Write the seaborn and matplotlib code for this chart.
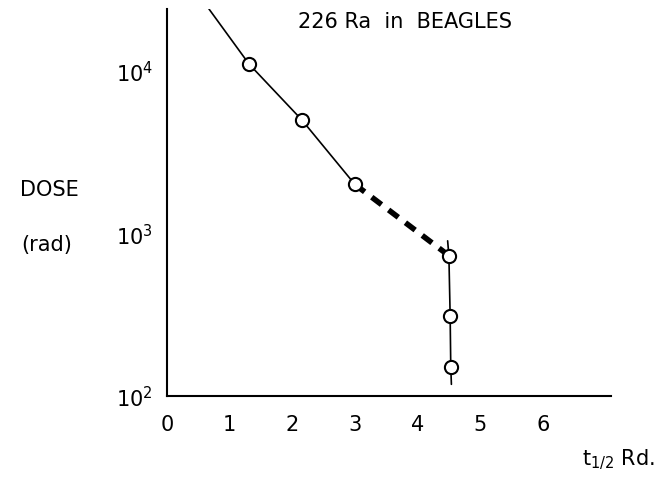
import numpy as np
import matplotlib
matplotlib.use("Agg")
import matplotlib.pyplot as plt
import seaborn as sns

# values (x in t1/2 units, y = dose in rad)
solid_x = [0.67, 1.31, 2.15, 3.0]
solid_y = [24000, 11000, 5000, 2000]
dash_x = [3.0, 4.5]
dash_y = [2000, 730]
drop_x = [4.48, 4.5, 4.52, 4.53, 4.54]
drop_y = [900, 730, 310, 150, 118]
point_x = [1.31, 2.15, 3.0, 4.5, 4.52, 4.53]
point_y = [11000, 5000, 2000, 730, 310, 150]
x_ticks = [0, 1, 2, 3, 4, 5, 6]
y_ticks = [100, 1000, 10000]

sns.set_theme(style="white")
plt.rcParams['font.family'] = ['DejaVu Sans']
plt.rcParams['text.color'] = 'black'

fig = plt.figure(figsize=(6.61, 4.85), dpi=100)
ax = fig.add_axes([0.2526, 0.1814, 0.672, 0.798])

sns.lineplot(x=solid_x, y=solid_y, ax=ax, color='black', linewidth=1.2)
sns.lineplot(x=dash_x, y=dash_y, ax=ax, color='black', linewidth=4,
             linestyle=(0, (2.2, 1.6)))
sns.lineplot(x=drop_x, y=drop_y, ax=ax, color='black', linewidth=1.2, sort=False)
sns.scatterplot(x=point_x, y=point_y, ax=ax, s=90, facecolor='white',
                edgecolor='black', linewidth=1.5, zorder=5)

ax.set_yscale('log')
ax.set_ylim(100, 10 ** 4.38)
ax.set_xlim(0, 7.09)

ax.set_xticks(x_ticks)
ax.set_xticklabels([str(t) for t in x_ticks])
ax.set_yticks(y_ticks)
ax.minorticks_off()
ax.tick_params(axis='x', direction='inout', length=14, width=1.3,
               labelsize=15, pad=6, colors='black')
ax.tick_params(axis='y', direction='inout', length=12, width=1.3,
               labelsize=15, pad=4, colors='black')
ax.xaxis.get_major_ticks()[0].tick1line.set_visible(False)
ax.yaxis.get_major_ticks()[0].tick1line.set_visible(False)

for side in ['top', 'right']:
    ax.spines[side].set_visible(False)
for side in ['left', 'bottom']:
    ax.spines[side].set_color('black')
    ax.spines[side].set_linewidth(1.5)

fig.text(405 / 661, 1 - 22 / 485, '226 Ra  in  BEAGLES', fontsize=15,
         ha='center', va='center', color='black')
fig.text(49 / 661, 1 - 190 / 485, 'DOSE', fontsize=15, ha='center',
         va='center', color='black')
fig.text(47 / 661, 1 - 245 / 485, '(rad)', fontsize=15, ha='center',
         va='center', color='black')
fig.text(655 / 661, 1 - 460 / 485, r't$_{1/2}$ Rd.', fontsize=15,
         ha='right', va='center', color='black')

fig.savefig('out.png', dpi=100)
